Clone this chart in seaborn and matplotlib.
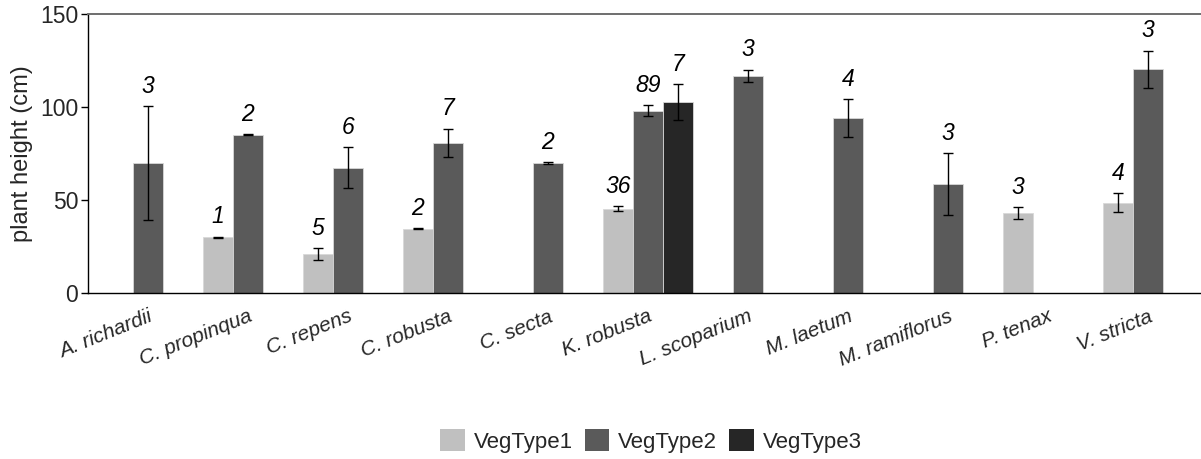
import numpy as np
import pandas as pd
import matplotlib
matplotlib.use("Agg")
import matplotlib.pyplot as plt
import seaborn as sns

species = ["A. richardii", "C. propinqua", "C. repens", "C. robusta", "C. secta",
           "K. robusta", "L. scoparium", "M. laetum", "M. ramiflorus", "P. tenax",
           "V. stricta"]
veg_types = ["VegType1", "VegType2", "VegType3"]

# mean plant height (cm) per species; 0 where a vegetation type has no plants
mean_veg1 = [0, 30, 20.8, 34.6, 0, 45.3, 0, 0, 0, 42.9, 48.5]
mean_veg2 = [70, 85, 67.4, 80.6, 69.9, 97.9, 116.6, 93.9, 58.6, 0, 120.2]
mean_veg3 = [0, 0, 0, 0, 0, 102.6, 0, 0, 0, 0, 0]

# standard error of each mean
se_veg1 = [0, 0.3, 3.2, 0.3, 0, 1.4, 0, 0, 0, 3.3, 5.2]
se_veg2 = [30.5, 0.3, 11.1, 7.7, 0.3, 3.0, 3.4, 10.2, 16.5, 0, 10.0]
se_veg3 = [0, 0, 0, 0, 0, 9.5, 0, 0, 0, 0, 0]

# number of plants measured
n_veg1 = [0, 1, 5, 2, 0, 36, 0, 0, 0, 3, 4]
n_veg2 = [3, 2, 6, 7, 2, 89, 3, 4, 3, 0, 3]
n_veg3 = [0, 0, 0, 0, 0, 7, 0, 0, 0, 0, 0]

colors = ["#c0c0c0", "#5a5a5a", "#262626"]

rows = []
for vt, m, s, n in zip(veg_types, [mean_veg1, mean_veg2, mean_veg3],
                       [se_veg1, se_veg2, se_veg3], [n_veg1, n_veg2, n_veg3]):
    for sp, mi, si, ni in zip(species, m, s, n):
        rows.append({"species": sp, "vegtype": vt, "height": mi, "se": si, "n": ni})
df = pd.DataFrame(rows)

sns.set_theme(style="white")
plt.rcParams["font.family"] = ["Liberation Sans", "DejaVu Sans"]

fig = plt.figure(figsize=(12.01, 4.59), dpi=100)
ax = fig.add_axes([88 / 1201, 1 - 293 / 459, 1 - 88 / 1201, (293 - 14) / 459])

sns.barplot(data=df, x="species", y="height", hue="vegtype", order=species,
            hue_order=veg_types, palette=colors, width=0.9, errorbar=None,
            edgecolor="#d8d8d8", linewidth=0.6, saturation=1, ax=ax)

# error bars and sample sizes on top of each bar
for vt, container in zip(veg_types, ax.containers):
    sub = df[df["vegtype"] == vt].set_index("species").loc[species]
    for bar, (_, r) in zip(container.patches, sub.iterrows()):
        if r["n"] == 0:
            continue
        xc = bar.get_x() + bar.get_width() / 2
        h = bar.get_height()
        ax.errorbar(xc, h, yerr=r["se"], fmt="none", ecolor="black",
                    elinewidth=1, capsize=3.5, capthick=1, zorder=5)
        ax.text(xc, h + r["se"] + 4.5, f"{int(r['n'])}", ha="center", va="bottom",
                fontsize=16.5, fontstyle="italic", color="black")

ax.set_ylim(0, 150)
ax.set_yticks([0, 50, 100, 150])
ax.set_xlim(-0.6, 10.53)
ax.set_xlabel("")
ax.set_ylabel("plant height (cm)", fontsize=17, labelpad=5)
ax.tick_params(axis="y", labelsize=16.5, length=5, width=1, color="black",
               direction="out", left=True, pad=2)
ax.tick_params(axis="x", length=0, pad=10)
ax.set_xticks(range(len(species)))
ax.set_xticklabels(species, rotation=22, ha="right", rotation_mode="anchor",
                   fontsize=15, fontstyle="italic")

for side in ["left", "bottom"]:
    ax.spines[side].set_color("black")
    ax.spines[side].set_linewidth(1)
ax.spines["top"].set_color("#6e6e6e")
ax.spines["top"].set_linewidth(1.4)
ax.spines["right"].set_visible(False)

ax.legend_.remove()
handles = [plt.Rectangle((0, 0), 1, 1, facecolor=c, edgecolor="none") for c in colors]
fig.legend(handles, veg_types, loc="center", bbox_to_anchor=(651 / 1201, 1 - 441 / 459),
           ncol=3, frameon=False, fontsize=16, handlelength=1.1, handleheight=1.1,
           handletextpad=0.4, columnspacing=0.55)

fig.savefig("out.png", dpi=100)
